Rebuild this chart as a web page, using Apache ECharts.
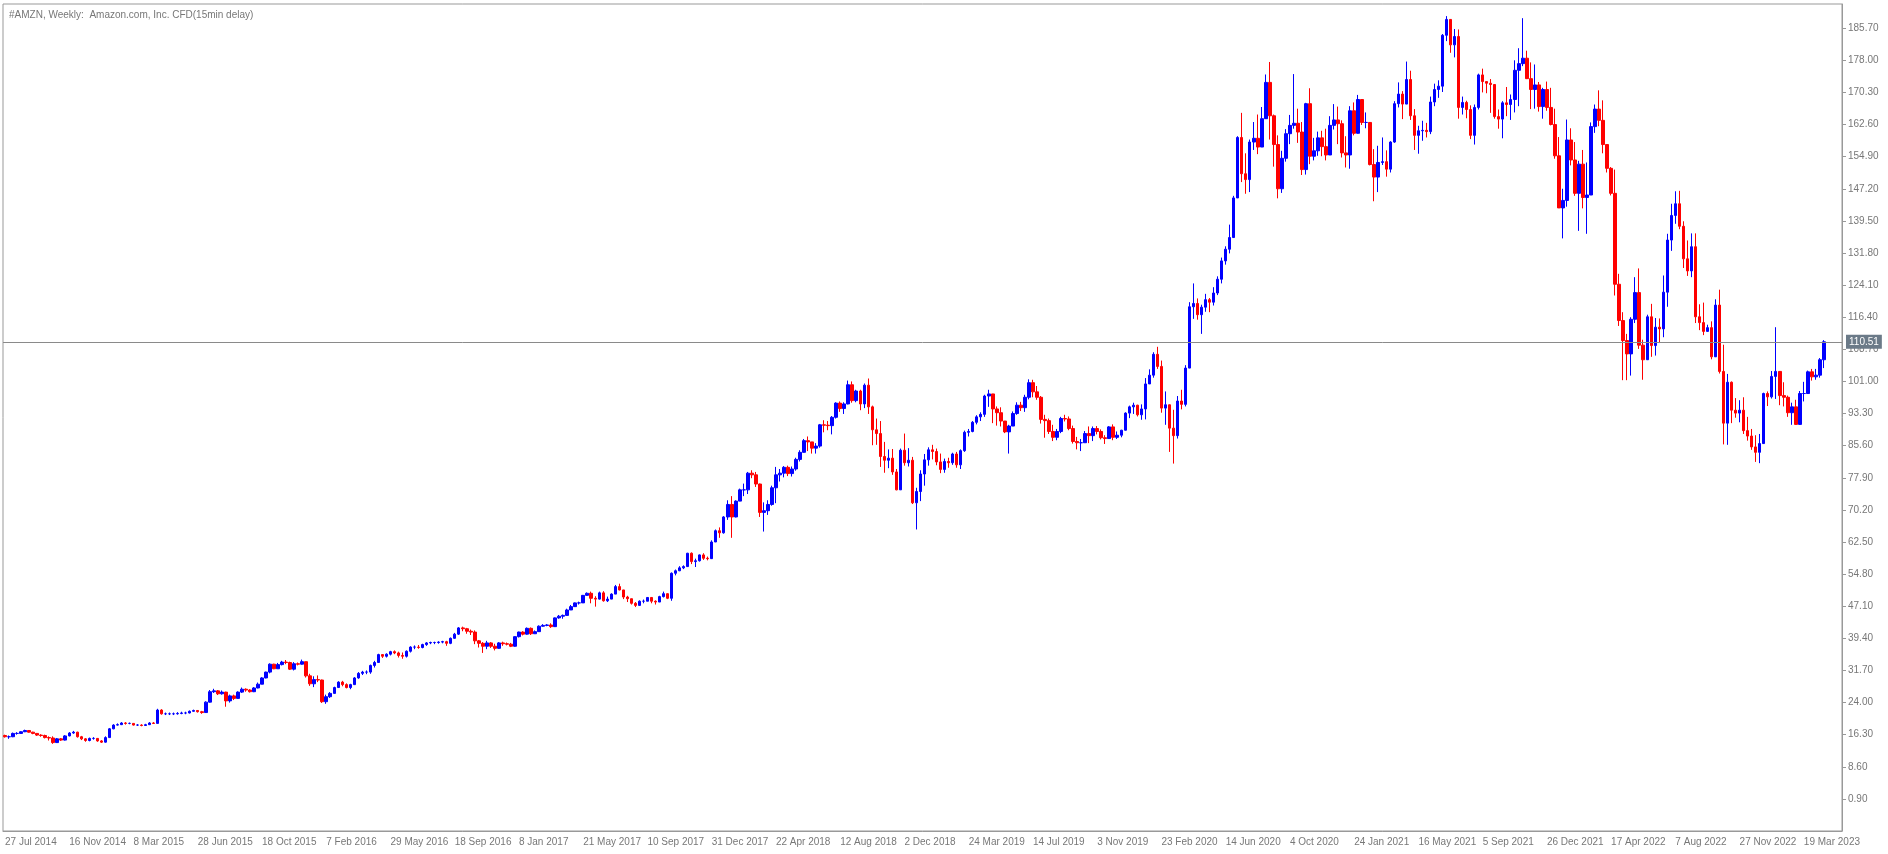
<!DOCTYPE html>
<html><head><meta charset="utf-8">
<script src="https://cdn.jsdelivr.net/npm/echarts@6/dist/echarts.min.js"></script>
<style>html,body{margin:0;padding:0;background:#fff}#c{width:1888px;height:854px}</style>
</head><body><div id="c"></div>
<script>
const firstOpen = 16.1;
const lastPrice = 110.51;
const missingWeeks = ['19 Feb 2017','12 Mar 2017','9 Apr 2017'];
const closes = [
15.8,15.8,16.6,16.6,17.0,17.3,16.9,16.6,16.2,16.1,15.6,15.5,14.4,15.3,15.0,16.0,16.7,16.9,15.8,15.3,14.9,15.4,15.4,
14.8,14.5,15.6,17.7,18.6,18.7,19.1,19.0,19.0,18.6,18.6,18.5,18.7,19.1,19.0,22.2,21.3,21.3,21.3,21.3,21.4,21.5,21.5,21.9,22.1,21.8,21.6,24.1,26.6,26.8,26.1,26.5,24.4,25.6,25.0,26.5,27.2,27.0,26.6,27.5,28.4,29.9,31.3,33.2,32.1,33.1,33.7,33.6,32.0,33.3,33.2,33.8,
30.4,28.5,29.5,29.4,24.2,25.4,26.2,27.6,28.9,28.3,27.6,28.3,29.9,31.0,31.3,31.3,32.9,33.6,35.5,35.1,35.6,36.2,35.9,35.3,35.1,36.3,37.3,37.3,37.2,37.9,38.3,38.4,38.4,38.5,38.6,38.2,39.4,40.4,41.9,41.7,41.1,40.9,38.8,38.2,37.5,38.3,37.5,37.0,38.3,38.1,38.0,37.5,
39.8,40.9,40.4,41.8,40.5,41.0,42.3,42.5,42.6,42.2,44.3,44.7,44.9,46.2,47.0,47.9,47.9,49.7,50.2,49.0,48.8,50.3,48.4,48.8,50.0,51.8,51.0,49.3,48.9,47.8,47.3,48.3,48.3,49.2,48.3,48.1,49.4,50.1,49.0,55.0,55.6,56.3,56.6,59.8,57.8,58.0,59.4,58.6,58.5,62.5,
65.2,64.7,68.5,71.5,68.5,72.3,75.0,75.0,79.0,78.6,76.4,69.6,70.0,71.5,75.5,78.6,79.0,80.4,78.9,80.0,82.3,84.0,86.8,86.5,85.0,85.5,90.6,90.5,90.4,92.4,95.8,94.5,95.6,100.2,96.4,98.7,95.6,100.1,94.9,89.4,88.5,83.0,82.1,82.6,79.3,75.0,84.5,81.5,82.1,71.9,74.6,78.8,
82.2,84.6,84.2,81.7,79.9,81.8,81.5,83.6,81.0,84.4,88.8,89.0,91.2,92.5,93.1,97.5,98.0,94.4,93.5,91.5,88.9,90.3,93.3,95.3,94.7,97.2,100.7,98.5,97.2,91.9,91.6,89.0,87.6,89.0,92.1,92.0,89.7,86.6,86.3,86.3,88.5,88.0,89.7,89.0,87.5,87.3,90.1,87.6,88.1,89.3,93.4,94.9,
95.3,93.0,94.4,100.4,102.5,107.5,104.6,94.6,95.4,89.8,88.0,96.3,95.5,104.2,118.9,119.7,117.0,118.8,120.6,120.0,122.2,125.5,129.9,132.7,135.5,145.0,159.5,150.8,149.4,158.4,159.3,157.2,164.0,172.7,164.7,157.8,147.2,154.5,160.4,162.4,162.9,160.8,151.8,167.6,155.0,156.3,159.4,157.3,155.3,162.4,163.7,162.8,
155.8,155.3,165.9,160.5,168.6,163.1,163.1,153.0,150.0,153.5,153.7,151.9,158.4,167.6,169.9,167.5,173.4,164.7,160.0,161.1,161.2,160.9,168.0,171.0,171.8,184.0,187.8,181.7,183.7,166.7,167.9,166.2,160.0,166.7,174.5,172.9,172.5,172.2,164.5,163.9,167.8,167.4,168.6,175.6,177.2,178.5,173.6,171.0,172.1,166.9,171.0,166.7,
162.6,155.1,142.6,144.4,158.9,154.1,146.1,153.1,145.1,145.7,162.1,166.3,163.6,157.8,152.1,146.1,124.3,115.6,110.8,107.6,115.9,122.3,109.7,106.2,116.5,109.6,114.0,113.6,122.4,134.9,140.8,143.6,138.2,130.4,127.5,133.3,116.5,115.1,113.0,113.9,106.9,119.3,103.4,91.0,100.8,94.1,93.4,94.1,89.2,87.9,85.3,84.0,
86.1,98.1,97.3,102.2,103.4,97.6,97.2,93.5,94.9,90.7,98.1,98.1,103.3,102.1,102.5,106.2,110.5];
const highs = [
16.3,16.1,16.8,16.9,17.1,17.5,17.4,17.0,16.7,16.4,16.3,15.9,15.9,15.5,15.5,16.2,16.9,17.2,17.0,16.0,15.5,15.6,15.7,
15.5,15.0,15.9,17.9,18.8,19.0,19.3,19.3,19.2,19.0,18.8,18.8,18.9,19.3,19.3,22.5,22.4,21.6,21.6,21.6,21.7,21.8,21.8,22.1,22.3,22.2,22.0,24.3,27.0,27.3,27.0,26.9,26.6,25.9,25.9,26.7,27.6,27.4,27.2,27.7,28.8,30.1,31.4,33.4,33.3,33.5,34.0,34.2,33.8,33.7,33.6,34.3,
33.8,30.9,30.3,30.5,29.5,25.9,26.5,27.8,29.1,29.2,28.6,28.5,30.1,31.3,31.6,31.7,33.1,34.0,35.7,35.6,35.8,36.4,36.5,36.2,36.0,36.5,37.5,37.7,37.8,38.1,38.5,38.6,38.6,38.7,38.8,38.8,39.6,40.7,42.1,42.2,41.9,41.5,41.3,39.0,38.5,38.8,38.5,38.1,38.5,38.6,38.4,38.3,
39.9,41.0,41.1,42.0,42.0,41.3,42.5,42.8,42.8,43.0,44.4,45.0,45.1,46.5,47.4,48.0,48.2,49.8,50.4,50.6,49.5,50.6,50.7,49.4,50.2,52.2,52.5,50.3,49.6,48.9,48.1,48.5,48.7,49.3,49.3,48.5,49.6,50.6,50.0,55.2,55.9,56.7,56.9,59.9,60.0,58.5,59.5,59.8,59.0,62.9,
65.5,66.0,68.7,72.5,73.5,72.5,75.3,76.5,79.3,79.7,79.3,76.5,72.0,72.5,76.0,80.5,80.0,80.7,80.8,80.6,82.7,84.5,87.2,87.8,86.5,86.2,90.8,91.7,91.5,92.7,96.0,96.2,96.0,101.2,101.0,99.0,99.0,100.5,101.7,95.2,92.1,91.5,86.5,84.7,84.8,80.0,84.9,88.5,85.0,82.9,75.5,79.7,
83.6,85.2,85.8,84.9,83.7,82.5,82.7,83.9,84.1,84.7,89.2,89.6,91.5,92.9,93.6,97.8,99.0,97.3,95.0,94.8,91.5,90.6,93.8,96.0,96.1,97.8,101.5,101.4,99.9,97.5,93.0,92.1,90.6,89.6,92.5,93.0,92.6,90.4,87.7,87.2,89.1,90.2,90.2,90.3,89.5,88.1,90.3,90.7,89.0,89.4,93.6,95.2,
95.9,95.4,95.5,101.8,103.9,108.0,109.3,106.0,98.6,95.3,94.2,97.5,99.0,104.9,120.0,124.5,120.9,119.4,122.0,121.0,123.6,126.2,130.7,133.4,138.6,145.5,159.8,165.4,155.7,159.0,163.2,165.0,166.8,174.6,177.6,165.0,160.0,156.3,161.5,164.9,174.7,166.4,163.2,167.8,171.3,159.4,160.9,161.1,161.6,164.6,167.5,166.9,
163.6,159.8,167.0,167.9,169.7,168.7,165.5,163.2,156.7,157.5,159.5,156.4,158.6,168.2,172.7,170.6,177.7,175.5,166.3,162.3,163.5,163.0,169.3,172.4,173.2,184.3,188.6,186.4,185.5,185.4,169.3,168.3,167.2,167.4,174.8,176.0,173.0,173.5,172.3,166.2,168.2,171.6,169.8,178.0,180.9,188.1,180.3,177.5,177.0,172.8,171.4,172.9,
171.4,166.4,159.6,147.2,163.8,161.7,158.4,153.9,156.5,153.5,163.1,167.4,170.8,168.4,157.8,152.4,151.8,126.8,117.6,112.4,116.4,126.0,128.1,111.0,117.0,119.6,116.2,116.1,126.4,136.4,143.6,146.6,146.7,139.4,134.8,136.5,136.5,119.5,119.9,114.6,115.4,120.7,123.0,109.8,102.8,101.0,97.0,96.5,97.2,92.5,89.6,88.1,
88.4,98.3,98.6,103.5,114.0,101.9,100.8,97.6,95.9,96.6,98.7,100.9,103.6,104.0,104.0,106.6,110.9];
const lows = [
15.6,15.3,15.7,16.3,16.5,16.9,16.8,16.4,16.0,15.8,15.4,14.9,14.1,14.3,14.8,14.9,15.9,16.5,15.6,15.0,14.6,14.7,15.1,
14.6,14.3,14.4,15.5,17.6,18.5,18.6,18.7,18.8,18.5,18.4,18.3,18.4,18.6,18.9,19.0,21.1,21.0,21.0,21.0,21.1,21.2,21.2,21.4,21.8,21.6,21.3,21.6,24.0,26.3,25.8,25.9,23.0,24.0,24.6,25.0,26.3,26.6,26.4,26.5,27.4,28.4,29.8,31.0,32.0,32.1,32.9,33.2,31.8,31.7,32.9,33.1,
30.0,28.0,27.7,28.9,23.9,23.7,25.1,26.2,27.5,27.9,27.4,27.2,28.2,29.7,30.6,30.8,30.9,32.4,33.5,34.7,34.8,35.3,35.6,34.8,34.5,34.8,36.0,36.8,36.9,37.0,37.6,38.0,38.0,38.1,38.2,37.6,38.0,39.3,40.2,41.1,40.5,40.2,38.0,37.2,35.9,36.8,37.1,36.5,36.9,37.6,37.7,37.3,
37.4,39.6,40.1,40.3,40.2,40.5,41.0,42.2,42.3,41.9,42.3,44.1,44.1,45.0,46.5,47.2,47.5,48.0,49.6,47.8,47.0,48.7,48.2,48.1,48.9,50.0,50.9,48.8,48.1,47.5,46.9,47.3,47.8,48.3,47.8,47.5,48.2,49.2,48.8,48.4,54.5,55.5,56.0,56.7,57.2,56.5,57.8,58.2,58.1,58.7,
62.7,63.5,64.5,67.8,63.5,68.4,72.5,73.5,74.0,77.8,75.7,68.5,65.0,69.0,71.2,71.8,77.0,78.0,78.3,78.2,79.6,81.8,84.1,84.3,83.7,83.7,85.1,88.8,89.3,88.3,92.1,93.7,93.2,95.5,95.9,96.0,94.1,94.6,93.2,85.7,85.8,80.5,79.1,80.2,78.6,74.9,75.1,80.8,80.6,71.6,65.5,72.3,
76.0,80.8,82.3,80.9,79.0,79.1,80.3,81.0,80.3,80.0,84.1,87.8,88.8,90.7,91.5,92.5,94.9,91.0,90.4,90.2,88.6,83.7,90.3,93.0,93.9,93.7,96.7,97.2,96.6,90.9,87.5,88.4,86.7,86.9,88.6,91.4,89.3,86.1,84.7,84.3,86.3,86.2,86.7,88.3,87.1,86.0,87.7,86.9,87.2,87.6,89.7,92.2,
93.2,92.6,91.8,91.9,100.7,101.9,104.0,93.5,90.6,84.1,81.3,87.3,94.3,95.0,106.8,116.0,115.8,112.4,117.7,117.6,119.2,121.7,124.5,129.0,131.7,135.6,145.5,148.8,146.0,146.4,156.5,155.5,157.5,164.5,159.0,152.5,144.9,146.2,153.7,157.9,161.6,158.2,150.5,150.6,153.1,154.0,155.1,155.0,154.0,155.9,161.4,157.9,
154.7,152.3,152.0,160.0,160.7,162.5,161.7,152.8,144.2,146.4,152.9,150.1,151.1,158.2,166.7,163.9,169.1,163.7,156.5,155.6,158.7,159.5,160.3,167.0,169.0,170.4,182.6,179.8,178.7,164.0,165.0,164.1,159.1,157.8,166.2,170.3,170.1,165.4,164.0,161.6,159.3,164.6,163.7,165.5,167.0,176.6,173.5,166.3,166.4,165.7,164.0,165.9,
162.4,154.4,143.0,135.3,142.9,152.8,145.5,137.1,142.5,136.4,146.8,160.6,162.2,155.7,151.1,145.6,121.6,114.3,101.3,101.3,102.4,115.0,108.8,101.4,107.8,106.9,107.2,110.2,111.6,118.9,132.3,138.8,137.5,128.2,126.3,126.0,115.0,113.3,112.1,113.1,106.3,109.3,102.9,85.9,85.8,91.0,92.3,91.2,88.4,86.8,84.6,81.7,
81.4,86.4,95.1,96.9,96.8,95.3,95.0,92.5,90.6,90.6,91.0,96.2,99.3,101.2,101.4,101.9,104.2];
const emptySlotsRight = 4;

const months = ['Jan','Feb','Mar','Apr','May','Jun','Jul','Aug','Sep','Oct','Nov','Dec'];
const cats = [];
for (let k=0; cats.length<closes.length; k++){
  const d=new Date(Date.UTC(2014,6,27)+k*7*86400000);
  const s=d.getUTCDate()+' '+months[d.getUTCMonth()]+' '+d.getUTCFullYear();
  if (!missingWeeks.includes(s)) cats.push(s);
}
for (let i=0;i<emptySlotsRight;i++) cats.push('');
const ohlc = closes.map((c,i)=>{const o=i===0?firstOpen:closes[i-1];return [o,c,lows[i],highs[i]];});

const chart = echarts.init(document.getElementById('c'));
const ff = 'Liberation Sans';
chart.setOption({
  animation:false,
  title:{text:'#AMZN, Weekly:  Amazon.com, Inc. CFD(15min delay)',left:4,top:5,textStyle:{fontSize:10,fontWeight:'normal',color:'#777',fontFamily:ff}},
  grid:{left:3,right:46,top:4,bottom:23,show:true,borderColor:'#999',borderWidth:1},
  xAxis:{type:'category',data:cats,boundaryGap:true,
    axisLine:{onZero:false,lineStyle:{color:'#999'}},
    axisTick:{interval:(i,v)=>v!==''&&i%16===0,length:4,lineStyle:{color:'#999'},alignWithLabel:true},
    axisLabel:{interval:(i,v)=>v!==''&&i%16===0,color:'#777',fontSize:10,fontFamily:ff,align:'left',margin:6},
    splitLine:{show:false}},
  yAxis:{type:'value',position:'right',min:-6.8,max:191.5,interval:7.7,
    axisLine:{show:true,lineStyle:{color:'#999'}},
    axisTick:{show:true,length:4,lineStyle:{color:'#999'}},
    axisLabel:{color:'#777',fontSize:10,fontFamily:ff,margin:6,showMaxLabel:false,showMinLabel:false,formatter:v=>v.toFixed(2)},
    splitLine:{show:false}},
  series:[{type:'candlestick',data:ohlc,barWidth:3,
    itemStyle:{color:'#0000ff',color0:'#ff0000',borderColor:'#0000ff',borderColor0:'#ff0000',borderWidth:1},
    markLine:{symbol:'none',silent:true,animation:false,
      lineStyle:{color:'#8a8a8a',type:'solid',width:1},
      label:{position:'end',formatter:()=>lastPrice.toFixed(2),color:'#fff',backgroundColor:'#6b7a88',padding:[2,3],fontSize:10,fontFamily:ff,distance:4},
      data:[{yAxis:lastPrice}]}}]
});
</script></body></html>
